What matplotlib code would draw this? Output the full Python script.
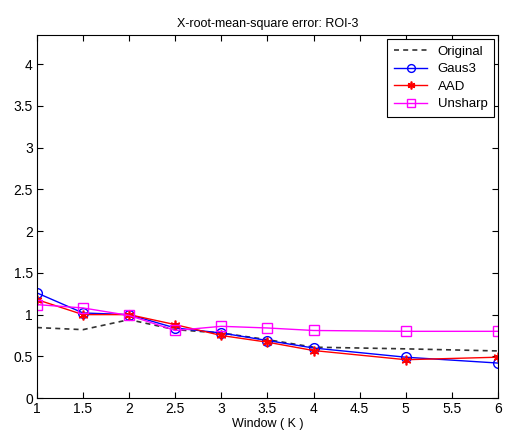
import numpy as np
import matplotlib
matplotlib.use("Agg")
import matplotlib.pyplot as plt

plt.rcParams['font.family'] = ['Liberation Sans', 'DejaVu Sans']

# window sizes
window = [1, 1.5, 2, 2.5, 3, 3.5, 4, 5, 6]

original = [0.845, 0.82, 0.94, 0.82, 0.78, 0.70, 0.61, 0.59, 0.565]
gaus3 = [1.26, 1.02, 1.00, 0.84, 0.78, 0.69, 0.60, 0.49, 0.42]
aad = [1.18, 1.00, 1.00, 0.88, 0.75, 0.67, 0.57, 0.46, 0.49]
unsharp = [1.12, 1.08, 0.99, 0.81, 0.86, 0.84, 0.81, 0.80, 0.80]

xticks = [1, 1.5, 2, 2.5, 3, 3.5, 4, 4.5, 5, 5.5, 6]
yticks = [0, 0.5, 1, 1.5, 2, 2.5, 3, 3.5, 4]

fig = plt.figure(figsize=(5.06, 4.37), dpi=100)
ax = fig.add_axes([0.073, 0.089, 0.911, 0.831])

ax.plot(window, original, linestyle=(0, (3, 2.5)), color='#333333', lw=1.2, label='Original')
ax.plot(window, gaus3, '-o', color='blue', mfc='none', ms=7, lw=1, label='Gaus3')
ax.plot(window, aad, '-', marker=(6, 2, 0), color='red', mec='red', ms=7, mew=1.2, lw=1, label='AAD')
ax.plot(window, unsharp, '-s', color='magenta', mfc='none', ms=7, lw=1, label='Unsharp')

ax.set_xlim(1, 6)
ax.set_ylim(0, 4.35)
ax.set_xticks(xticks)
ax.set_xticklabels(['1', '1.5', '2', '2.5', '3', '3.5', '4', '4.5', '5', '5.5', '6'])
ax.set_yticks(yticks)
ax.set_yticklabels(['0', '0.5', '1', '1.5', '2', '2.5', '3', '3.5', '4'])
ax.tick_params(direction='in', top=True, right=True, labelsize=10, length=4, pad=3)
ax.set_xlabel('Window ( K )', fontsize=9, labelpad=1)
ax.set_title('X-root-mean-square error: ROI-3', fontsize=9, pad=6)

leg = ax.legend(loc='upper right', fontsize=9.5, fancybox=False, edgecolor='black',
                handlelength=2.5, borderaxespad=0.3, labelspacing=0.4, framealpha=1,
                markerscale=0.8, borderpad=0.5)
leg.get_frame().set_linewidth(0.8)

fig.savefig('out.png', dpi=100)
